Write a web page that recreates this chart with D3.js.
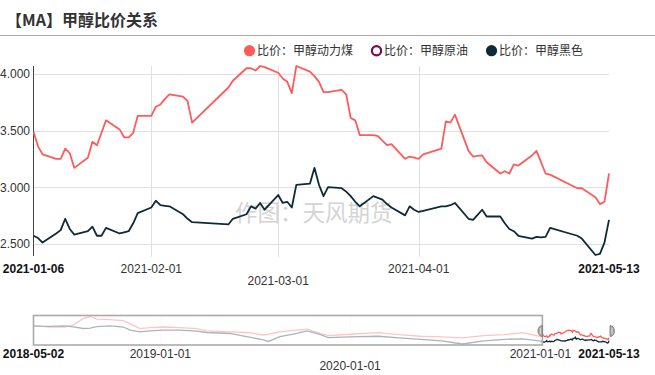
<!DOCTYPE html>
<html>
<head>
<meta charset="utf-8">
<script src="https://cdn.jsdelivr.net/npm/d3@7"></script>
<style>
  body { margin: 0; background: #fff; }
  text { font-family: "Liberation Sans", Arial, "Noto Sans CJK SC", sans-serif; }
  .cjk { font-family: "Noto Sans CJK SC", "Liberation Sans", sans-serif; }
</style>
</head>
<body>
<svg id="chart" width="655" height="375"></svg>
<script>
// main window data (2021)
const dates = ["2021-01-06","2021-01-07","2021-01-08","2021-01-11","2021-01-12","2021-01-13","2021-01-14","2021-01-15",
  "2021-01-18","2021-01-19","2021-01-20","2021-01-21","2021-01-22","2021-01-25","2021-01-26","2021-01-27","2021-01-28","2021-01-29",
  "2021-02-01","2021-02-02","2021-02-03","2021-02-04","2021-02-05","2021-02-08","2021-02-09","2021-02-10","2021-02-18","2021-02-19",
  "2021-02-22","2021-02-23","2021-02-24","2021-02-25","2021-02-26","2021-03-01","2021-03-02","2021-03-03","2021-03-04","2021-03-05",
  "2021-03-08","2021-03-09","2021-03-10","2021-03-11","2021-03-12","2021-03-15","2021-03-16","2021-03-17","2021-03-18","2021-03-19",
  "2021-03-22","2021-03-23","2021-03-24","2021-03-25","2021-03-26","2021-03-29","2021-03-30","2021-03-31","2021-04-01","2021-04-02",
  "2021-04-06","2021-04-07","2021-04-08","2021-04-09","2021-04-12","2021-04-13","2021-04-14","2021-04-15","2021-04-16","2021-04-19",
  "2021-04-20","2021-04-21","2021-04-22","2021-04-23","2021-04-26","2021-04-27","2021-04-28","2021-04-29","2021-04-30","2021-05-06",
  "2021-05-07","2021-05-10","2021-05-11","2021-05-12","2021-05-13"];
const ratioCoal = [3.49,3.36,3.29,3.25,3.25,3.34,3.30,3.17,
  3.26,3.40,3.37,3.48,3.59,3.51,3.44,3.44,3.48,3.63,
  3.63,3.71,3.73,3.78,3.82,3.80,3.76,3.57,3.88,3.94,
  4.05,4.05,4.03,4.07,4.06,4.01,3.96,3.93,3.83,4.07,
  4.02,3.98,3.93,3.84,3.84,3.86,3.82,3.61,3.59,3.46,
  3.46,3.45,3.41,3.37,3.38,3.25,3.27,3.26,3.25,3.29,
  3.34,3.58,3.57,3.64,3.32,3.27,3.275,3.28,3.22,3.12,
  3.14,3.12,3.20,3.19,3.28,3.32,3.22,3.12,3.11,2.99,
  2.99,2.91,2.85,2.87,3.12];
const ratioBlack = [2.57,2.55,2.51,2.59,2.62,2.72,2.63,2.58,
  2.61,2.65,2.57,2.57,2.64,2.59,2.60,2.61,2.68,2.77,
  2.82,2.88,2.84,2.835,2.83,2.76,2.72,2.69,2.67,2.72,
  2.76,2.83,2.81,2.86,2.80,2.93,2.86,2.87,2.82,3.02,
  3.03,3.17,3.02,2.92,3.00,2.99,2.96,2.92,2.87,2.83,
  2.92,2.905,2.89,2.85,2.82,2.75,2.83,2.80,2.78,2.79,
  2.83,2.83,2.84,2.86,2.72,2.71,2.755,2.80,2.74,2.74,
  2.68,2.63,2.61,2.57,2.545,2.56,2.555,2.56,2.64,2.57,
  2.545,2.40,2.41,2.51,2.71];

// navigator history before 2021
const navDates = ["2018-05-02","2018-06-01","2018-07-01","2018-07-18","2018-08-06","2018-08-19","2018-09-01","2018-09-26",
  "2018-10-22","2018-11-04","2018-11-23","2018-12-12","2019-01-07","2019-02-08","2019-03-12","2019-03-31","2019-05-15",
  "2019-06-16","2019-07-18","2019-07-28","2019-08-19","2019-09-21","2019-10-10","2019-11-04","2019-11-20","2020-01-01",
  "2020-02-24","2020-04-04","2020-05-15","2020-06-25","2020-08-04","2020-09-14","2020-10-24","2020-11-27","2020-12-29"];
const navCoal = [4.70,4.49,4.49,4.78,5.62,5.86,5.53,5.45,
  5.33,4.90,4.28,4.40,4.49,4.40,4.28,3.99,3.87,
  3.78,3.45,3.55,3.87,4.08,4.20,3.65,3.36,3.55,
  3.77,3.49,3.29,3.20,3.09,3.36,3.49,3.77,3.29];
const navBlack = [4.61,4.58,4.65,4.50,4.30,4.35,4.55,4.65,
  4.49,4.08,3.87,4.00,4.08,4.08,3.95,3.78,3.65,
  3.24,2.83,2.61,3.24,3.65,3.99,3.53,3.11,3.20,
  3.29,3.09,2.88,2.68,2.28,2.68,2.88,2.96,2.68];

const yTicks = [2.5, 3.0, 3.5, 4.0];
const xTickDates = ["2021-02-01", "2021-03-01", "2021-04-01"];
const navTickDates = ["2019-01-01", "2020-01-01", "2021-01-01"];
const navSelectStart = "2021-01-01";
const seriesNames = ["比价：甲醇动力煤", "比价：甲醇原油", "比价：甲醇黑色"];
const seriesColors = ["#ff5b5b", "#7a0a4f", "#0e2a38"];

const parse = d3.timeParse("%Y-%m-%d");
const fmt = d3.timeFormat("%Y-%m-%d");
const svg = d3.select("#chart");

// title
svg.append("text").attr("class", "cjk")
  .attr("x", 6).attr("y", 25.5)
  .attr("font-size", 16).attr("font-weight", "bold").attr("fill", "#333")
  .text("【MA】甲醇比价关系");
svg.append("line").attr("x1", 0).attr("x2", 655).attr("y1", 35.5).attr("y2", 35.5)
  .attr("stroke", "#aaa");

// legend
let lx = 249.5;
seriesNames.forEach((name, i) => {
  if (i === 1) {
    svg.append("circle").attr("cx", lx).attr("cy", 50.7).attr("r", 4.6)
      .attr("fill", "#fff").attr("stroke", seriesColors[i]).attr("stroke-width", 2.2);
  } else {
    svg.append("circle").attr("cx", lx).attr("cy", 50.7).attr("r", 5.6).attr("fill", seriesColors[i]);
  }
  const t = svg.append("text").attr("class", "cjk")
    .attr("x", lx + 7.5).attr("y", 55)
    .attr("font-size", 12).attr("fill", "#333").text(name);
  lx = lx + 7.5 + t.node().getComputedTextLength() + 23.5;
});

// main chart
const x = d3.scaleTime().domain([parse(dates[0]), parse(dates[dates.length - 1])]).range([33.5, 609]);
const y = d3.scaleLinear().domain(d3.extent(ratioCoal.concat(ratioBlack))).range([255, 66]);

const grid = svg.append("g");
grid.selectAll(".hg").data(yTicks).enter().append("line")
  .attr("x1", 33.5).attr("x2", 609)
  .attr("y1", d => Math.round(y(d)) + 0.5).attr("y2", d => Math.round(y(d)) + 0.5)
  .attr("stroke", "#e0e0e0");
grid.selectAll(".vg").data(xTickDates).enter().append("line")
  .attr("x1", d => Math.round(x(parse(d))) + 0.5).attr("x2", d => Math.round(x(parse(d))) + 0.5)
  .attr("y1", 66).attr("y2", 257)
  .attr("stroke", "#e0e0e0");

svg.selectAll(".ylab").data(yTicks).enter().append("text")
  .attr("x", 30).attr("y", d => y(d) + 4.5)
  .attr("text-anchor", "end").attr("font-size", 12).attr("fill", "#333")
  .text(d3.format(".3f"));

svg.append("line").attr("x1", 33.5).attr("x2", 33.5).attr("y1", 66).attr("y2", 256)
  .attr("stroke", "#444");

// watermark
svg.append("text").attr("class", "cjk")
  .attr("x", 235).attr("y", 221)
  .attr("font-size", 22.5).attr("fill", "#d4d4d4")
  .text("作图：天风期货");

const mainLine = vals => d3.line()
  .x((d, i) => x(parse(dates[i])))
  .y(d => y(d))(vals);

svg.append("path").attr("d", mainLine(ratioCoal))
  .attr("fill", "none").attr("stroke", seriesColors[0]).attr("stroke-width", 1.8)
  .attr("stroke-linejoin", "round");
svg.append("path").attr("d", mainLine(ratioBlack))
  .attr("fill", "none").attr("stroke", seriesColors[2]).attr("stroke-width", 1.8)
  .attr("stroke-linejoin", "round");

// x labels (ends bold, middle tick staggered)
function dateLabels(scale, ticks, row1, row2) {
  const all = [fmt(scale.domain()[0])].concat(ticks, [fmt(scale.domain()[1])]);
  all.forEach((d, i) => {
    const edge = i === 0 || i === all.length - 1;
    svg.append("text")
      .attr("x", scale(parse(d))).attr("y", i === 2 ? row2 : row1)
      .attr("text-anchor", "middle").attr("font-size", 12)
      .attr("font-weight", edge ? "bold" : "normal")
      .attr("fill", edge ? "#111" : "#333")
      .text(d);
  });
}
dateLabels(x, xTickDates, 273, 285);

// navigator
const allDates = navDates.concat(dates);
const allCoal = navCoal.concat(ratioCoal);
const allBlack = navBlack.concat(ratioBlack);
const nx = d3.scaleTime().domain([parse(allDates[0]), parse(allDates[allDates.length - 1])]).range([33.5, 609]);
const ny = d3.scaleLinear().domain(d3.extent(allCoal.concat(allBlack))).range([344, 316.5]);

svg.selectAll(".nvg").data(navTickDates).enter().append("line")
  .attr("x1", d => Math.round(nx(parse(d))) + 0.5).attr("x2", d => Math.round(nx(parse(d))) + 0.5)
  .attr("y1", 316).attr("y2", 345)
  .attr("stroke", "#eee");

const navLine = vals => d3.line()
  .x((d, i) => nx(parse(allDates[i])))
  .y(d => ny(d))(vals);
svg.append("path").attr("d", navLine(allCoal))
  .attr("fill", "none").attr("stroke", seriesColors[0]).attr("stroke-width", 1.3);
svg.append("path").attr("d", navLine(allBlack))
  .attr("fill", "none").attr("stroke", seriesColors[2]).attr("stroke-width", 1.3);

const selX = nx(parse(navSelectStart));
svg.append("rect")
  .attr("x", 33.5).attr("y", 315.5).attr("width", selX - 33.5 + 2).attr("height", 29.5)
  .attr("fill", "#fff").attr("fill-opacity", 0.65)
  .attr("stroke", "#aaa").attr("stroke-width", 1.6);

// handles
function handle(hx, left) {
  const hy = 331, r = 5;
  const sweep = left ? 0 : 1;
  svg.append("path")
    .attr("d", `M${hx},${hy - r - 0.5} A${r - 0.5},${r + 0.5} 0 0 ${sweep} ${hx},${hy + r + 0.5} Z`)
    .attr("fill", "#aaa").attr("stroke", "#777").attr("stroke-width", 0.8);
  const ix = left ? hx - 2 : hx + 2;
  svg.append("line").attr("x1", ix).attr("x2", ix).attr("y1", hy - 3).attr("y2", hy + 3)
    .attr("stroke", "#eee").attr("stroke-width", 0.8);
}
handle(selX + 2, true);
handle(nx.range()[1] + 1, false);

dateLabels(nx, navTickDates, 357.5, 369.5);
</script>
</body>
</html>
